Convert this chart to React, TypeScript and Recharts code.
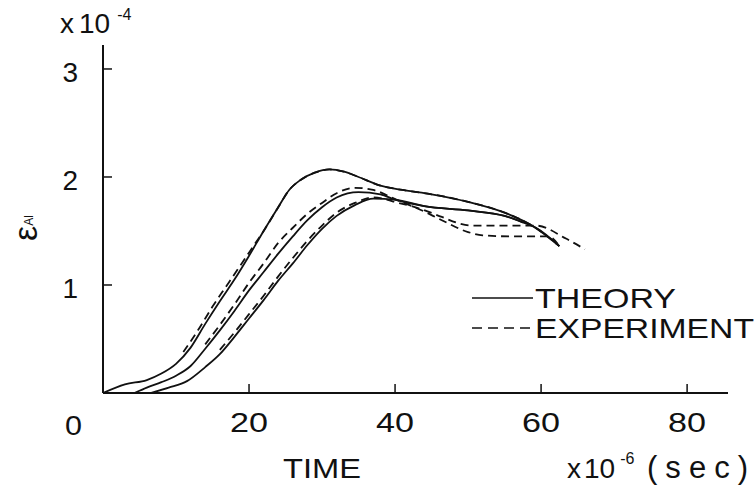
import React from "react"
import { LineChart, Line, XAxis, YAxis, Label, Legend } from "recharts"

// time in units of 1e-6 s, strain in units of 1e-4
const theoryA = [
  { t: 0, e: 0 }, { t: 3, e: 0.08 }, { t: 6, e: 0.12 }, { t: 8, e: 0.18 },
  { t: 10, e: 0.27 }, { t: 12, e: 0.42 }, { t: 14, e: 0.64 }, { t: 16, e: 0.85 },
  { t: 18, e: 1.05 }, { t: 20, e: 1.27 }, { t: 22, e: 1.5 }, { t: 24, e: 1.72 },
  { t: 25.5, e: 1.88 }, { t: 27, e: 1.97 }, { t: 29, e: 2.04 }, { t: 31, e: 2.07 },
  { t: 33, e: 2.05 }, { t: 35, e: 2.0 }, { t: 38, e: 1.92 }, { t: 41, e: 1.88 },
  { t: 45, e: 1.84 }, { t: 50, e: 1.77 }, { t: 55, e: 1.67 }, { t: 59, e: 1.54 },
  { t: 62.5, e: 1.36 },
]

const theoryB = [
  { t: 4.3, e: 0 }, { t: 6, e: 0.05 }, { t: 8, e: 0.1 }, { t: 10, e: 0.16 },
  { t: 12, e: 0.25 }, { t: 14, e: 0.41 }, { t: 16, e: 0.58 }, { t: 18, e: 0.76 },
  { t: 20, e: 0.95 }, { t: 22, e: 1.12 }, { t: 24, e: 1.29 }, { t: 26, e: 1.45 },
  { t: 28, e: 1.6 }, { t: 30, e: 1.72 }, { t: 32, e: 1.81 }, { t: 35, e: 1.86 },
  { t: 38, e: 1.84 }, { t: 40, e: 1.79 }, { t: 44, e: 1.73 }, { t: 50, e: 1.69 },
  { t: 55, e: 1.64 }, { t: 57.5, e: 1.58 }, { t: 59.3, e: 1.53 }, { t: 62.5, e: 1.36 },
]

const theoryC = [
  { t: 6.5, e: 0 }, { t: 9, e: 0.05 }, { t: 11.5, e: 0.11 }, { t: 14, e: 0.24 },
  { t: 16, e: 0.36 }, { t: 18, e: 0.52 }, { t: 20, e: 0.69 }, { t: 22, e: 0.86 },
  { t: 24, e: 1.04 }, { t: 26, e: 1.2 }, { t: 28, e: 1.37 }, { t: 30, e: 1.52 },
  { t: 32, e: 1.64 }, { t: 34.5, e: 1.74 }, { t: 37, e: 1.8 }, { t: 40, e: 1.79 },
  { t: 44, e: 1.73 }, { t: 50, e: 1.69 }, { t: 55, e: 1.64 }, { t: 57.5, e: 1.58 },
]

const experimentA = [
  { t: 11, e: 0.38 }, { t: 13, e: 0.58 }, { t: 15, e: 0.8 }, { t: 17, e: 1.0 },
  { t: 19, e: 1.2 }, { t: 21, e: 1.4 }, { t: 22, e: 1.5 }, { t: 24, e: 1.72 },
  { t: 25.5, e: 1.88 }, { t: 27, e: 1.97 }, { t: 29, e: 2.04 }, { t: 31, e: 2.07 },
  { t: 33, e: 2.05 }, { t: 35, e: 2.0 }, { t: 38, e: 1.92 }, { t: 41, e: 1.88 },
  { t: 45, e: 1.84 }, { t: 50, e: 1.77 }, { t: 55, e: 1.67 }, { t: 59, e: 1.54 },
  { t: 62.5, e: 1.36 },
]

const experimentB = [
  { t: 14, e: 0.45 }, { t: 16, e: 0.63 }, { t: 18, e: 0.82 }, { t: 20, e: 1.02 },
  { t: 22, e: 1.2 }, { t: 24, e: 1.39 }, { t: 26, e: 1.53 }, { t: 28, e: 1.66 },
  { t: 30, e: 1.76 }, { t: 32, e: 1.85 }, { t: 34.5, e: 1.9 }, { t: 37, e: 1.88 },
  { t: 40.5, e: 1.78 }, { t: 43.7, e: 1.69 }, { t: 46.4, e: 1.6 }, { t: 50, e: 1.49 },
  { t: 52, e: 1.46 }, { t: 56, e: 1.45 }, { t: 61, e: 1.45 }, { t: 62.5, e: 1.36 },
]

const experimentC = [
  { t: 16, e: 0.4 }, { t: 18, e: 0.56 }, { t: 20, e: 0.73 }, { t: 22, e: 0.9 },
  { t: 24, e: 1.08 }, { t: 26, e: 1.25 }, { t: 28, e: 1.41 }, { t: 30, e: 1.55 },
  { t: 32, e: 1.67 }, { t: 34.5, e: 1.76 }, { t: 37, e: 1.81 }, { t: 40.5, e: 1.76 },
  { t: 43.7, e: 1.7 }, { t: 46.4, e: 1.63 }, { t: 48.8, e: 1.57 }, { t: 50.5, e: 1.55 },
  { t: 59.3, e: 1.55 }, { t: 63.4, e: 1.43 }, { t: 66, e: 1.33 },
]

const xTicks = [20, 40, 60, 80]
const yTicks = [1, 2, 3]

const FONT = "'Liberation Sans', Arial, sans-serif"
const INK = "#111"

const theorySeries = [theoryA, theoryB, theoryC]
const experimentSeries = [experimentA, experimentB, experimentC]

function XTick(props: any) {
  const { x, y, payload } = props
  return (
    <text x={x - 19} y={y} fontFamily={FONT} fontSize={27} fill={INK} textLength={38} lengthAdjust="spacingAndGlyphs">
      {payload.value}
    </text>
  )
}

function YTick(props: any) {
  const { x, y, payload } = props
  return (
    <text x={x} y={y + 13} textAnchor="end" fontFamily={FONT} fontSize={28} fill={INK}>
      {payload.value}
    </text>
  )
}

function YTitle() {
  return (
    <g fill={INK} fontFamily={FONT}>
      <text x={60} y={33} fontSize={28}>
        x<tspan dx={5}>10</tspan>
        <tspan dx={7} dy={-13} fontSize={16}>-4</tspan>
      </text>
      <text transform="rotate(-90, 37, 228)" x={37} y={228} textAnchor="middle" fontSize={34}>
        ε<tspan fontSize={12} dy={-4}>Al</tspan>
      </text>
    </g>
  )
}

function XTitle() {
  return (
    <g fill={INK} fontFamily={FONT}>
      <text x={65} y={435} fontSize={27} textLength={17} lengthAdjust="spacingAndGlyphs">0</text>
      <text x={283} y={478} fontSize={27} textLength={78} lengthAdjust="spacingAndGlyphs">TIME</text>
      <text x={567} y={478} fontSize={28}>
        x<tspan dx={3}>10</tspan>
        <tspan dx={5} dy={-14} fontSize={16}>-6</tspan>
      </text>
      <text x={647} y={478} fontSize={31} textLength={101} lengthAdjust="spacing">(sec)</text>
    </g>
  )
}

function LegendBox() {
  return (
    <svg width={290} height={62}>
      <g fill={INK} fontFamily={FONT} fontSize={28}>
        <line x1={6} y1={15} x2={67} y2={15} stroke={INK} strokeWidth={1.6} />
        <text x={69} y={25} textLength={141} lengthAdjust="spacingAndGlyphs">THEORY</text>
        <line x1={6} y1={45} x2={67} y2={45} stroke={INK} strokeWidth={1.6} strokeDasharray="10 6" />
        <text x={69} y={55} textLength={219} lengthAdjust="spacingAndGlyphs">EXPERIMENT</text>
      </g>
    </svg>
  )
}

export default function App() {
  return (
    <div style={{ position: "absolute", left: 0, top: 0, background: "#fff" }}>
      <LineChart width={756} height={485} margin={{ top: 45, right: 28, left: 0, bottom: 0 }}>
        <XAxis
          dataKey="t"
          type="number"
          domain={[0, 85.6]}
          ticks={xTicks}
          allowDataOverflow
          height={92}
          axisLine={{ stroke: INK, strokeWidth: 2 }}
          tickLine={{ stroke: INK, strokeWidth: 1.5 }}
          tickSize={-9}
          tickMargin={48}
          tick={<XTick />}
        >
          <Label content={<XTitle />} />
        </XAxis>
        <YAxis
          dataKey="e"
          type="number"
          domain={[0, 3.222]}
          ticks={yTicks}
          allowDataOverflow
          width={103}
          axisLine={{ stroke: INK, strokeWidth: 2 }}
          tickLine={{ stroke: INK, strokeWidth: 1.5 }}
          tickSize={-9}
          tickMargin={34}
          tick={<YTick />}
        >
          <Label content={<YTitle />} />
        </YAxis>
        <Legend
          layout="horizontal"
          verticalAlign="middle"
          align="center"
          content={() => <LegendBox />}
          wrapperStyle={{ position: "absolute", left: 466, top: 283, width: 290, height: 62 }}
        />
        {theorySeries.map((s, i) => (
          <Line
            key={"th" + i}
            data={s}
            dataKey="e"
            name="THEORY"
            type="monotone"
            stroke={INK}
            strokeWidth={1.8}
            dot={false}
            activeDot={false}
            isAnimationActive={false}
          />
        ))}
        {experimentSeries.map((s, i) => (
          <Line
            key={"ex" + i}
            data={s}
            dataKey="e"
            name="EXPERIMENT"
            type="monotone"
            stroke={INK}
            strokeWidth={1.8}
            strokeDasharray="8 5"
            dot={false}
            activeDot={false}
            isAnimationActive={false}
          />
        ))}
      </LineChart>
    </div>
  )
}
